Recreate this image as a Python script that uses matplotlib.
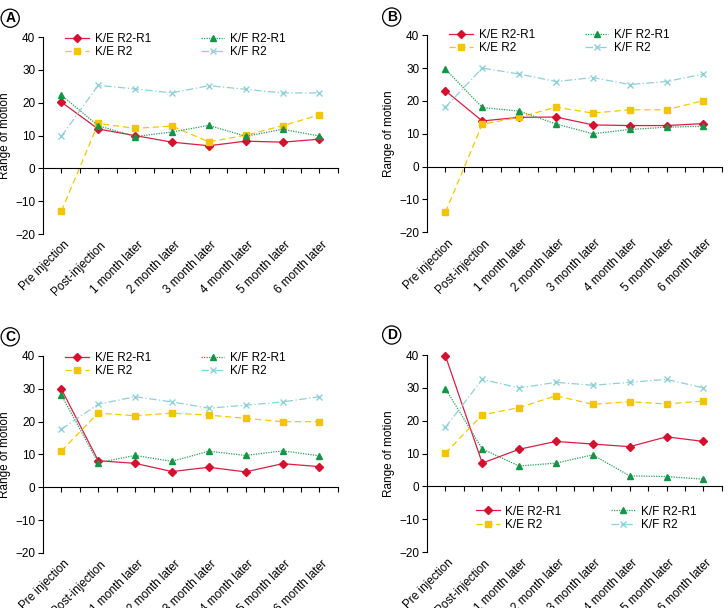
import numpy as np
import matplotlib
matplotlib.use("Agg")
import matplotlib.pyplot as plt

plt.rcParams['font.family'] = ['Liberation Sans', 'DejaVu Sans']
plt.rcParams['font.size'] = 8.5

# ---- data ----
categories = ["Pre injection", "Post-injection", "1 month later", "2 month later",
              "3 month later", "4 month later", "5 month later", "6 month later"]
series_names = ["K/E R2-R1", "K/E R2", "K/F R2-R1", "K/F R2"]

a_ke_r2r1 = [20.2, 12.0, 10.0, 8.0, 6.9, 8.3, 8.0, 8.9]
a_ke_r2   = [-13.0, 13.7, 12.2, 12.9, 8.1, 10.1, 13.0, 16.3]
a_kf_r2r1 = [22.3, 13.0, 9.7, 11.1, 13.1, 9.8, 11.9, 9.9]
a_kf_r2   = [9.8, 25.3, 24.2, 23.0, 25.2, 24.1, 23.0, 23.0]

b_ke_r2r1 = [23.1, 13.9, 15.0, 15.1, 12.7, 12.5, 12.5, 13.1]
b_ke_r2   = [-13.9, 12.9, 15.0, 18.1, 16.3, 17.3, 17.3, 20.1]
b_kf_r2r1 = [29.7, 18.0, 16.9, 13.0, 10.0, 11.3, 12.0, 12.3]
b_kf_r2   = [18.1, 30.0, 28.2, 25.9, 27.1, 25.0, 25.9, 28.2]

c_ke_r2r1 = [29.9, 8.1, 7.3, 4.8, 6.1, 4.7, 7.2, 6.3]
c_ke_r2   = [11.1, 22.6, 21.8, 22.6, 22.0, 21.0, 20.0, 20.0]
c_kf_r2r1 = [28.1, 7.5, 9.7, 7.9, 11.0, 9.7, 11.1, 9.6]
c_kf_r2   = [17.7, 25.3, 27.6, 26.0, 24.1, 25.0, 26.0, 27.6]

d_ke_r2r1 = [39.8, 7.1, 11.3, 13.7, 12.9, 12.1, 15.1, 13.7]
d_ke_r2   = [10.1, 21.8, 24.0, 27.6, 25.0, 25.8, 25.1, 26.0]
d_kf_r2r1 = [29.8, 11.4, 6.2, 7.1, 9.6, 3.2, 3.0, 2.2]
d_kf_r2   = [18.0, 32.6, 30.0, 31.7, 30.8, 31.7, 32.6, 30.0]

panels = {
    "A": [a_ke_r2r1, a_ke_r2, a_kf_r2r1, a_kf_r2],
    "B": [b_ke_r2r1, b_ke_r2, b_kf_r2r1, b_kf_r2],
    "C": [c_ke_r2r1, c_ke_r2, c_kf_r2r1, c_kf_r2],
    "D": [d_ke_r2r1, d_ke_r2, d_kf_r2r1, d_kf_r2],
}

# line styles per series
styles = [
    dict(color='#d81e45', linestyle='-', marker='D', markersize=4.5,
         markerfacecolor='#d5102f', markeredgecolor='#d5102f'),
    dict(color='#f4c800', linestyle=(0, (5, 3)), marker='s', markersize=4.5,
         markerfacecolor='#f2c500', markeredgecolor='#f2c500'),
    dict(color='#2a9d57', linestyle=(0, (1, 1)), marker='^', markersize=5,
         markerfacecolor='#139447', markeredgecolor='#139447'),
    dict(color='#8fd0d8', linestyle=(0, (6, 2, 1, 2)), marker='x', markersize=5,
         markerfacecolor='#8fd0d8', markeredgecolor='#8fd0d8'),
]

# axes positions [left, bottom, width, height] in figure fraction
positions = {
    "A": [0.059, 0.615, 0.405, 0.324],
    "B": [0.5865, 0.618, 0.405, 0.324],
    "C": [0.059, 0.0905, 0.405, 0.324],
    "D": [0.5865, 0.092, 0.405, 0.324],
}
legend_anchor = {
    "A": (0.06, 1.045),
    "B": (0.06, 1.055),
    "C": (0.06, 1.045),
    "D": (0.15, 0.26),
}
label_pos = {"A": (0.014, 0.97), "B": (0.538, 0.972),
             "C": (0.014, 0.446), "D": (0.538, 0.449)}

fig = plt.figure(figsize=(7.28, 6.08), dpi=100)
x = np.arange(len(categories))

for key, data in panels.items():
    ax = fig.add_axes(positions[key])
    for vals, name, st in zip(data, series_names, styles):
        ax.plot(x, vals, label=name, linewidth=0.9, clip_on=False, **st)

    ax.set_xlim(-0.5, 7.5)
    ax.set_ylim(-20, 40)
    ax.set_yticks(np.arange(-20, 41, 10))
    ax.spines['top'].set_visible(False)
    ax.spines['right'].set_visible(False)
    ax.spines['bottom'].set_position(('data', 0))
    ax.spines['left'].set_linewidth(0.8)
    ax.spines['bottom'].set_linewidth(0.8)
    ax.set_xticks(np.arange(0, 8, 0.5))
    ax.tick_params(axis='x', direction='out', length=3.5, width=0.8, labelbottom=False)
    ax.tick_params(axis='y', direction='out', length=3.5, width=0.8, pad=2)
    ax.set_ylabel("Range of motion", labelpad=3)

    for i, cat in enumerate(categories):
        ax.text(i + 0.05, -0.025, cat, transform=ax.get_xaxis_transform(),
                rotation=45, ha='right', va='top', rotation_mode='anchor')

    ax.legend(ncol=2, loc='upper left', bbox_to_anchor=legend_anchor[key],
              frameon=False, handlelength=2.0, handletextpad=0.5,
              columnspacing=4.2, labelspacing=0.1, borderaxespad=0)

    fig.text(*label_pos[key], key, fontsize=10, fontweight='bold',
             ha='center', va='center',
             bbox=dict(boxstyle='circle,pad=0.15', fc='white', ec='black', lw=0.9))

fig.savefig("out.png", dpi=100)
